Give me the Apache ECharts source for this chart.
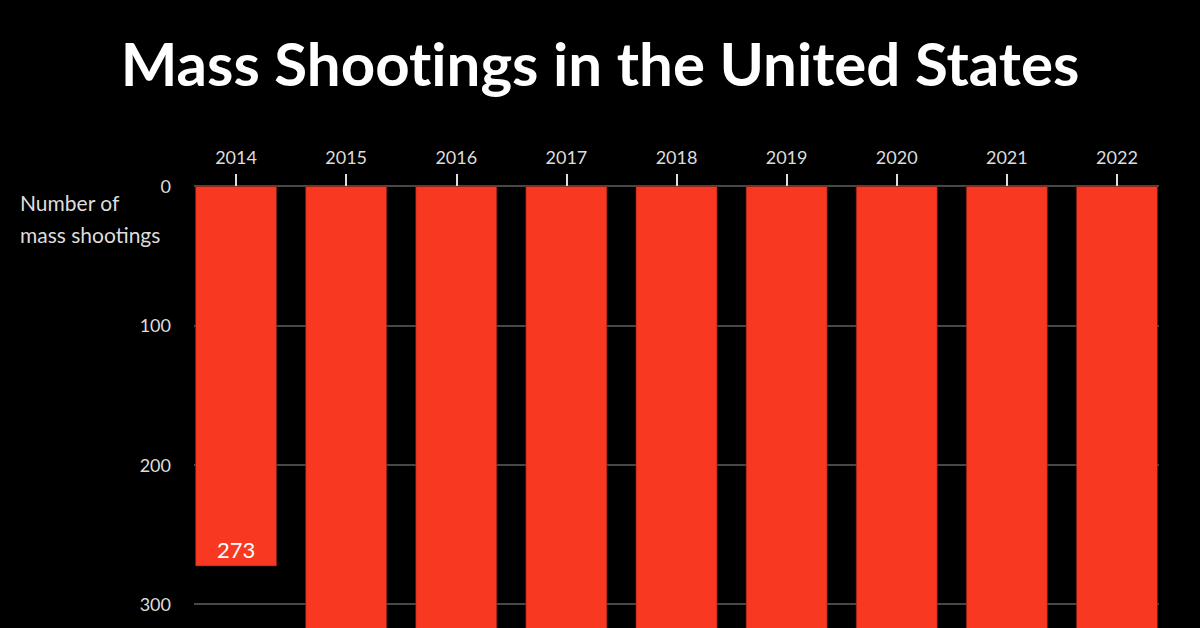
<!DOCTYPE html>
<html>
<head>
<meta charset="utf-8">
<script src="https://cdn.jsdelivr.net/npm/echarts@6/dist/echarts.min.js"></script>
<style>
html,body{margin:0;padding:0;background:#000;}
#chart{width:1200px;height:628px;}
#chart text{font-variant-ligatures:none;font-feature-settings:"liga" 0, "clig" 0;}
</style>
</head>
<body>
<div id="chart"></div>
<script>
const titleText = 'Mass Shootings in the United States';
const axisNameText = 'Number of\nmass shootings';
const years = ['2014','2015','2016','2017','2018','2019','2020','2021','2022'];
const shootings = [273, 336, 382, 346, 336, 417, 610, 690, 647];
const yMin = 0, yMax = 700, yStep = 100;

const FONT = 'Lato';
const W = 1200, H = 628;
const chart = echarts.init(document.getElementById('chart'), null, {renderer: 'svg'});
const gridTop = 186;
const pxPerUnit = 418 / 300;
const gridBottom = H - gridTop - (yMax - yMin) * pxPerUnit;
// values whose position lies inside the visible picture (the plot runs past the bottom edge)
const visibleMax = (H - 12 - gridTop) / pxPerUnit;

chart.setOption({
  backgroundColor: '#000000',
  animation: false,
  title: {
    text: titleText,
    left: 'center',
    top: 28,
    textStyle: {color: '#ffffff', fontFamily: FONT, fontWeight: 'bold', fontSize: 60}
  },
  graphic: [{
    type: 'text',
    left: 20,
    top: 186,
    style: {
      text: axisNameText,
      fill: '#dddddd',
      font: '21px Lato',
      lineHeight: 32
    }
  }],
  grid: [
    {left: 181, right: 28, top: gridTop, bottom: gridBottom, outerBoundsMode: 'none', containLabel: false},
    {left: 194, right: 41, top: gridTop, bottom: gridBottom, outerBoundsMode: 'none', containLabel: false}
  ],
  xAxis: [
    {
      type: 'category',
      data: years,
      position: 'top',
      gridIndex: 0,
      axisLine: {show: false},
      axisTick: {show: true, alignWithLabel: true, length: 12, lineStyle: {color: '#dddddd', width: 2}},
      axisLabel: {color: '#dddddd', fontFamily: FONT, fontSize: 18, margin: 20},
      splitLine: {show: false}
    },
    {type: 'value', gridIndex: 1, show: false, min: 0, max: 1}
  ],
  yAxis: [
    {
      type: 'value',
      gridIndex: 0,
      inverse: true,
      min: yMin, max: yMax, interval: yStep,
      axisLine: {show: false},
      axisTick: {show: false},
      axisLabel: {
        color: '#dddddd', fontFamily: FONT, fontSize: 18, margin: 10,
        formatter: function (v) { return v <= visibleMax ? String(v) : ''; }
      },
      splitLine: {show: false}
    },
    {
      type: 'value',
      gridIndex: 1,
      inverse: true,
      min: yMin, max: yMax, interval: yStep,
      axisLine: {show: false},
      axisTick: {show: false},
      axisLabel: {show: false},
      splitLine: {show: true, lineStyle: {color: '#474747', width: 2}}
    }
  ],
  series: [
    {
      type: 'bar',
      xAxisIndex: 0,
      yAxisIndex: 0,
      data: shootings,
      barCategoryGap: '25.5%',
      itemStyle: {color: '#f93822', borderColor: 'rgba(120,30,20,0.6)', borderWidth: 1},
      label: {
        show: true,
        position: 'insideBottom',
        distance: 6,
        color: '#ffffff',
        fontFamily: FONT,
        fontSize: 22,
        formatter: function (p) { return p.value <= visibleMax ? String(p.value) : ''; }
      },
      z: 3
    },
    {
      type: 'line',
      xAxisIndex: 1,
      yAxisIndex: 1,
      data: [],
      silent: true
    }
  ]
});
</script>
</body>
</html>
